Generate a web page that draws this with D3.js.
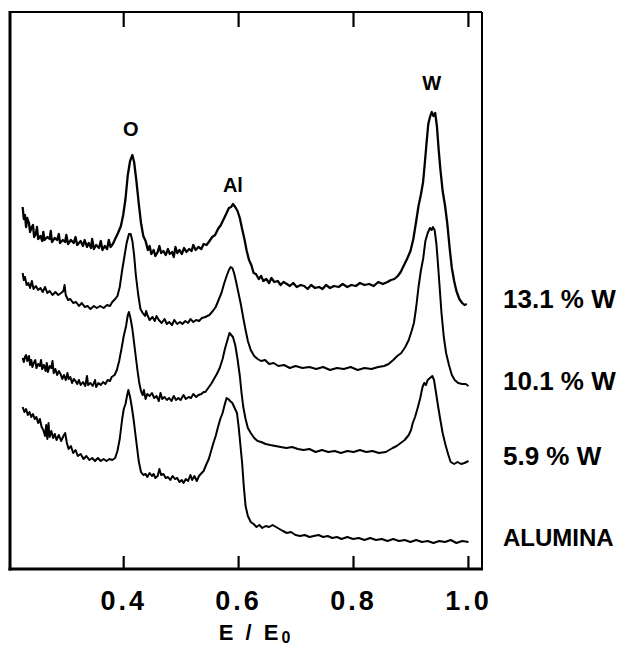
<!DOCTYPE html>
<html>
<head>
<meta charset="utf-8">
<script src="https://cdn.jsdelivr.net/npm/d3@7"></script>
<style>
  body { margin: 0; background: #fff; }
  text { font-family: "Liberation Sans", Arial, sans-serif; font-weight: bold; fill: #000; }
</style>
</head>
<body>
<script>
// E/E0 vs intensity (arbitrary units, curves offset vertically)
var w131 = [[0.225,36.2],[0.227,35.0],[0.229,35.4],[0.231,34.2],[0.233,35.1],[0.236,34.6],[0.238,33.7],[0.240,34.1],[0.243,34.4],[0.245,33.2],[0.248,33.5],[0.250,34.2],[0.252,33.0],[0.256,33.3],[0.259,32.8],[0.261,33.7],[0.263,32.9],[0.268,33.2],[0.272,33.0],[0.274,33.8],[0.276,32.7],[0.281,33.1],[0.285,32.9],[0.288,33.5],[0.290,32.6],[0.295,32.9],[0.299,32.7],[0.301,33.4],[0.304,32.5],[0.309,32.9],[0.314,32.6],[0.317,33.2],[0.320,32.4],[0.326,32.8],[0.330,32.3],[0.333,32.9],[0.337,32.2],[0.340,32.6],[0.344,32.1],[0.346,33.0],[0.349,32.0],[0.353,32.4],[0.358,32.1],[0.361,32.8],[0.364,31.9],[0.368,32.3],[0.372,32.0],[0.375,32.9],[0.378,32.2],[0.382,32.5],[0.386,33.0],[0.391,33.6],[0.396,34.3],[0.400,35.4],[0.404,37.0],[0.408,39.4],[0.412,40.8],[0.416,41.4],[0.419,40.7],[0.423,38.8],[0.427,36.6],[0.431,34.6],[0.435,33.3],[0.439,32.8],[0.443,31.9],[0.446,32.3],[0.449,31.5],[0.453,31.9],[0.456,31.3],[0.460,31.7],[0.463,32.3],[0.466,31.6],[0.470,31.8],[0.474,31.4],[0.478,32.0],[0.481,31.5],[0.485,31.7],[0.488,31.2],[0.491,32.2],[0.494,31.6],[0.498,31.9],[0.502,31.5],[0.506,32.1],[0.510,31.7],[0.515,32.0],[0.519,31.8],[0.522,32.4],[0.526,31.9],[0.531,32.2],[0.536,32.0],[0.540,32.5],[0.545,32.4],[0.549,32.7],[0.555,33.2],[0.560,33.4],[0.565,34.0],[0.570,34.4],[0.575,35.0],[0.580,35.6],[0.584,36.1],[0.588,36.2],[0.591,36.5],[0.595,36.2],[0.599,35.8],[0.603,35.1],[0.607,34.0],[0.611,33.0],[0.615,31.8],[0.619,30.9],[0.623,30.4],[0.627,29.6],[0.631,29.5],[0.636,29.0],[0.640,29.3],[0.644,28.8],[0.649,29.0],[0.654,28.6],[0.658,29.1],[0.663,28.7],[0.669,28.8],[0.674,28.4],[0.679,28.7],[0.685,28.5],[0.690,28.3],[0.696,28.6],[0.702,28.2],[0.709,28.4],[0.715,28.3],[0.721,28.0],[0.727,28.4],[0.734,28.1],[0.741,28.2],[0.747,28.0],[0.753,28.4],[0.760,28.1],[0.767,28.3],[0.775,28.2],[0.782,28.5],[0.790,28.2],[0.797,28.4],[0.805,28.3],[0.812,28.6],[0.820,28.4],[0.828,28.5],[0.836,28.3],[0.844,28.7],[0.852,28.5],[0.860,28.7],[0.866,28.9],[0.872,29.0],[0.878,29.3],[0.883,29.7],[0.888,30.3],[0.894,31.0],[0.900,31.8],[0.905,33.0],[0.910,34.8],[0.914,36.3],[0.918,37.4],[0.922,38.7],[0.925,40.6],[0.928,42.6],[0.931,44.5],[0.934,45.2],[0.937,45.7],[0.940,45.3],[0.943,45.6],[0.946,44.3],[0.949,42.0],[0.952,40.0],[0.956,37.8],[0.960,36.4],[0.964,34.6],[0.968,32.2],[0.972,30.1],[0.976,28.8],[0.980,27.8],[0.985,27.0],[0.990,26.6],[0.994,26.4],[0.998,26.5]];

var w101 = [[0.225,29.6],[0.227,28.9],[0.229,29.2],[0.232,28.4],[0.235,28.6],[0.238,28.1],[0.241,28.8],[0.244,28.0],[0.248,28.3],[0.252,27.9],[0.256,28.1],[0.260,27.7],[0.264,28.2],[0.268,27.6],[0.272,27.8],[0.277,27.4],[0.282,27.7],[0.287,27.4],[0.292,27.6],[0.296,27.8],[0.298,28.4],[0.300,27.4],[0.304,26.9],[0.308,27.0],[0.313,26.6],[0.318,26.7],[0.323,26.3],[0.328,26.6],[0.333,26.2],[0.338,26.3],[0.343,26.0],[0.349,26.3],[0.354,26.1],[0.360,26.3],[0.366,26.1],[0.372,26.4],[0.377,26.3],[0.381,26.7],[0.386,27.0],[0.390,27.3],[0.394,28.2],[0.398,29.8],[0.402,31.2],[0.406,32.6],[0.410,33.5],[0.413,33.5],[0.416,32.8],[0.419,31.4],[0.422,29.4],[0.426,27.5],[0.430,26.0],[0.434,25.6],[0.438,25.3],[0.440,25.8],[0.442,25.4],[0.446,24.9],[0.451,25.2],[0.455,24.8],[0.458,25.3],[0.462,24.9],[0.467,24.6],[0.472,25.0],[0.476,24.5],[0.480,24.7],[0.485,24.4],[0.489,24.9],[0.494,24.5],[0.499,24.7],[0.503,24.5],[0.508,24.8],[0.513,24.6],[0.517,25.0],[0.522,24.7],[0.527,24.9],[0.532,24.8],[0.537,25.1],[0.543,25.2],[0.550,25.4],[0.556,25.8],[0.561,26.2],[0.566,26.9],[0.571,27.6],[0.576,28.6],[0.580,29.3],[0.584,29.9],[0.587,30.2],[0.590,30.1],[0.593,29.6],[0.597,28.6],[0.601,27.5],[0.605,26.4],[0.609,25.1],[0.613,23.9],[0.617,22.8],[0.622,21.9],[0.628,21.3],[0.634,21.0],[0.640,20.8],[0.647,20.9],[0.654,20.5],[0.662,20.6],[0.670,20.3],[0.680,20.4],[0.690,20.1],[0.700,20.3],[0.712,20.1],[0.724,20.2],[0.736,20.0],[0.748,20.2],[0.760,19.9],[0.772,20.1],[0.784,20.0],[0.796,20.2],[0.808,19.9],[0.820,20.1],[0.832,20.0],[0.844,20.2],[0.854,20.3],[0.862,20.5],[0.870,20.9],[0.877,21.3],[0.884,21.6],[0.891,22.2],[0.897,22.9],[0.902,23.8],[0.906,24.6],[0.910,26.2],[0.914,28.2],[0.918,29.8],[0.922,31.0],[0.926,32.8],[0.930,33.6],[0.934,34.1],[0.937,33.9],[0.939,34.2],[0.942,33.9],[0.945,32.6],[0.948,30.4],[0.951,28.0],[0.954,25.6],[0.958,23.2],[0.962,21.6],[0.967,20.4],[0.972,19.4],[0.977,18.9],[0.983,18.6],[0.990,18.5],[0.996,18.5],[1.001,18.3]];

var w59 = [[0.225,21.1],[0.227,20.7],[0.229,21.2],[0.231,21.4],[0.233,20.8],[0.236,21.3],[0.238,20.4],[0.240,20.9],[0.242,20.2],[0.245,20.7],[0.247,20.9],[0.249,20.1],[0.252,20.5],[0.255,20.3],[0.257,20.9],[0.259,20.0],[0.262,20.4],[0.265,19.8],[0.267,20.6],[0.269,19.7],[0.272,20.3],[0.275,20.1],[0.277,20.8],[0.279,19.6],[0.282,20.0],[0.285,19.4],[0.288,19.8],[0.291,19.5],[0.294,19.0],[0.297,19.4],[0.300,18.9],[0.303,19.6],[0.305,19.0],[0.308,19.2],[0.311,18.6],[0.314,19.0],[0.317,18.8],[0.320,18.5],[0.323,18.9],[0.326,18.4],[0.330,18.7],[0.334,18.3],[0.337,19.3],[0.339,18.4],[0.343,18.6],[0.347,18.3],[0.351,18.9],[0.353,18.2],[0.357,18.6],[0.361,18.4],[0.365,18.7],[0.369,18.5],[0.373,18.9],[0.377,18.8],[0.380,19.2],[0.385,19.4],[0.389,19.9],[0.393,20.8],[0.397,22.0],[0.401,23.3],[0.405,24.3],[0.408,25.4],[0.410,25.7],[0.413,25.0],[0.416,24.0],[0.419,22.6],[0.422,21.2],[0.425,19.8],[0.428,18.6],[0.431,17.8],[0.434,17.4],[0.436,17.9],[0.439,17.0],[0.442,17.5],[0.446,17.3],[0.450,17.6],[0.454,17.1],[0.458,17.3],[0.462,16.8],[0.465,17.6],[0.468,17.0],[0.472,17.2],[0.476,16.9],[0.480,17.1],[0.484,16.8],[0.488,17.3],[0.492,16.9],[0.496,17.1],[0.500,16.9],[0.505,17.4],[0.509,17.0],[0.514,17.2],[0.518,17.1],[0.522,17.5],[0.527,17.2],[0.531,17.4],[0.536,17.5],[0.540,17.7],[0.543,17.7],[0.548,18.1],[0.553,18.5],[0.558,19.0],[0.563,19.5],[0.568,20.1],[0.573,21.0],[0.577,22.0],[0.581,22.8],[0.585,23.6],[0.588,23.4],[0.591,23.2],[0.595,22.4],[0.599,21.0],[0.603,19.3],[0.606,17.6],[0.609,16.2],[0.613,15.0],[0.617,14.1],[0.622,13.6],[0.628,13.1],[0.634,12.8],[0.640,12.7],[0.648,12.5],[0.656,12.4],[0.665,12.3],[0.674,12.2],[0.684,12.1],[0.694,12.2],[0.704,12.0],[0.714,11.9],[0.724,12.0],[0.735,11.7],[0.746,11.9],[0.757,11.7],[0.768,11.8],[0.779,11.6],[0.790,11.8],[0.801,11.7],[0.812,11.9],[0.823,11.7],[0.834,11.8],[0.845,11.6],[0.857,11.7],[0.863,11.9],[0.869,12.1],[0.876,12.3],[0.883,12.6],[0.890,12.9],[0.897,13.4],[0.901,13.9],[0.904,14.6],[0.908,15.2],[0.913,16.2],[0.917,17.1],[0.921,18.2],[0.924,18.6],[0.927,18.4],[0.930,18.9],[0.934,19.1],[0.938,19.3],[0.941,18.9],[0.944,17.8],[0.948,16.3],[0.952,14.9],[0.956,13.6],[0.961,12.4],[0.966,11.4],[0.970,10.7],[0.976,10.5],[0.982,10.7],[0.988,10.5],[0.994,10.6],[1.001,10.8]];

var alumina = [[0.225,16.2],[0.228,15.7],[0.231,16.0],[0.234,15.4],[0.237,15.7],[0.240,15.2],[0.243,15.5],[0.246,15.0],[0.249,15.2],[0.252,14.6],[0.255,15.0],[0.258,14.2],[0.261,13.9],[0.264,13.3],[0.266,14.4],[0.268,13.0],[0.270,14.6],[0.272,13.2],[0.275,13.8],[0.278,13.1],[0.281,13.5],[0.284,12.9],[0.288,13.4],[0.292,12.8],[0.296,13.3],[0.299,13.6],[0.302,12.6],[0.305,12.0],[0.309,12.3],[0.313,11.6],[0.317,11.9],[0.321,11.3],[0.326,11.5],[0.331,11.0],[0.336,11.3],[0.341,10.9],[0.346,11.1],[0.351,10.8],[0.356,11.1],[0.361,10.8],[0.366,11.0],[0.371,10.8],[0.376,11.0],[0.381,10.9],[0.386,11.1],[0.390,11.8],[0.394,13.0],[0.398,14.9],[0.401,16.0],[0.404,16.5],[0.407,17.4],[0.409,17.9],[0.412,17.2],[0.415,16.2],[0.418,15.0],[0.421,13.6],[0.424,12.2],[0.427,10.8],[0.431,9.7],[0.435,9.4],[0.439,9.5],[0.442,9.2],[0.446,9.6],[0.450,9.3],[0.453,9.5],[0.456,9.1],[0.460,9.3],[0.463,10.0],[0.466,9.4],[0.470,9.5],[0.474,9.1],[0.478,9.2],[0.482,8.9],[0.486,9.3],[0.490,9.0],[0.494,9.1],[0.498,8.7],[0.502,8.9],[0.505,8.6],[0.509,9.0],[0.513,8.8],[0.517,9.4],[0.520,8.9],[0.524,9.3],[0.528,8.8],[0.532,9.3],[0.535,9.5],[0.540,9.8],[0.545,10.5],[0.549,11.0],[0.553,11.8],[0.557,12.6],[0.561,13.3],[0.565,14.2],[0.569,15.0],[0.573,15.6],[0.577,16.5],[0.580,17.1],[0.583,17.0],[0.586,16.8],[0.590,16.6],[0.594,16.1],[0.598,15.6],[0.601,14.2],[0.604,12.4],[0.607,10.6],[0.610,8.2],[0.613,6.3],[0.617,5.3],[0.622,4.7],[0.627,4.5],[0.632,4.2],[0.637,4.4],[0.642,4.1],[0.648,4.3],[0.654,4.2],[0.660,4.4],[0.666,4.2],[0.672,4.0],[0.678,3.8],[0.685,3.6],[0.692,3.7],[0.700,3.4],[0.708,3.3],[0.716,3.4],[0.724,3.2],[0.732,3.3],[0.740,3.4],[0.748,3.2],[0.756,3.3],[0.764,3.1],[0.772,3.2],[0.780,3.0],[0.790,3.2],[0.800,3.0],[0.810,3.1],[0.820,2.9],[0.830,3.1],[0.840,2.9],[0.850,3.0],[0.860,2.8],[0.870,3.0],[0.880,2.8],[0.890,2.9],[0.900,2.7],[0.910,2.9],[0.920,2.7],[0.930,2.8],[0.940,2.6],[0.950,2.8],[0.960,2.7],[0.970,2.9],[0.980,2.6],[0.990,2.8],[1.001,2.7]];

var seriesNames = ["13.1 % W", "10.1 % W", "5.9 % W", "ALUMINA"];
var xTicks = [0.4, 0.6, 0.8, 1.0];
var peakNames = ["O", "Al", "W"];
var peakE = [0.413, 0.591, 0.937];

var W = 624, H = 648;
var plotL = 10, plotR = 482, plotT = 12, plotB = 569;

var svg = d3.select("body").append("svg")
    .attr("width", W)
    .attr("height", H);

var x = d3.scaleLinear().domain([0.203, 1.0245]).range([plotL, plotR]);
var y = d3.scaleLinear().domain([0, 55.7]).range([plotB, plotT]);

// frame
svg.append("line").attr("x1", plotL).attr("x2", plotR).attr("y1", plotT).attr("y2", plotT)
   .attr("stroke", "#000").attr("stroke-width", 2.2);
svg.append("line").attr("x1", plotR).attr("x2", plotR).attr("y1", plotT).attr("y2", plotB)
   .attr("stroke", "#000").attr("stroke-width", 2);
svg.append("line").attr("x1", plotL).attr("x2", plotL).attr("y1", plotT - 1).attr("y2", plotB + 1.5)
   .attr("stroke", "#000").attr("stroke-width", 3);
svg.append("line").attr("x1", plotL - 1.5).attr("x2", plotR + 1).attr("y1", plotB).attr("y2", plotB)
   .attr("stroke", "#000").attr("stroke-width", 3);

// bottom axis, ticks pointing inward
var xAxis = svg.append("g")
    .attr("transform", "translate(0," + plotB + ")")
    .call(d3.axisBottom(x).tickValues(xTicks).tickSize(-13).tickPadding(22).tickFormat(d3.format(".1f")));
xAxis.select(".domain").remove();
xAxis.selectAll(".tick line").attr("stroke-width", 2.2);
xAxis.selectAll(".tick text")
    .attr("font-size", 27)
    .attr("letter-spacing", 3)
    .attr("font-family", "'Liberation Sans', Arial, sans-serif")
    .attr("font-weight", "bold")
    .attr("dy", "0.71em");

var xTop = svg.append("g")
    .attr("transform", "translate(0," + plotT + ")")
    .call(d3.axisTop(x).tickValues(xTicks).tickSize(-15).tickFormat(""));
xTop.select(".domain").remove();
xTop.selectAll(".tick line").attr("stroke-width", 2.2);

// axis title
var title = svg.append("text")
    .attr("x", 256)
    .attr("y", 640)
    .attr("text-anchor", "middle")
    .attr("font-size", 22)
    .attr("letter-spacing", 3);
title.append("tspan").text("E / E");
title.append("tspan").attr("font-size", 16).attr("dy", 3).text("0");

// spectra
var line = d3.line()
    .x(function(d) { return x(d[0]); })
    .y(function(d) { return y(d[1]); });

var spectra = [w131, w101, w59, alumina];

svg.selectAll(".spectrum")
    .data(spectra)
    .enter()
    .append("path")
    .attr("class", "spectrum")
    .attr("d", line)
    .attr("fill", "none")
    .attr("stroke", "#000")
    .attr("stroke-width", function(d, i) { return i == 0 ? 2.3 : 2; })
    .attr("stroke-linejoin", "round");

// curve labels on the right, next to the end of each trace
svg.selectAll(".curve-label")
    .data(spectra)
    .enter()
    .append("text")
    .attr("class", "curve-label")
    .attr("x", 503)
    .attr("y", function(d) { return y(d[d.length - 1][1]) + 4; })
    .attr("font-size", function(d, i) { return i == 3 ? 24 : 26; })
    .text(function(d, i) { return seriesNames[i]; });

// peak labels above the top trace
var peakGap = [19, 12, 22];
svg.selectAll(".peak-label")
    .data(peakNames)
    .enter()
    .append("text")
    .attr("class", "peak-label")
    .attr("x", function(d, i) { return x(peakE[i]); })
    .attr("y", function(d, i) {
      var near = w131.filter(function(p) { return Math.abs(p[0] - peakE[i]) < 0.012; });
      return y(d3.max(near, function(p) { return p[1]; })) - peakGap[i];
    })
    .attr("text-anchor", "middle")
    .attr("font-size", 20)
    .text(function(d) { return d; });
</script>
</body>
</html>
